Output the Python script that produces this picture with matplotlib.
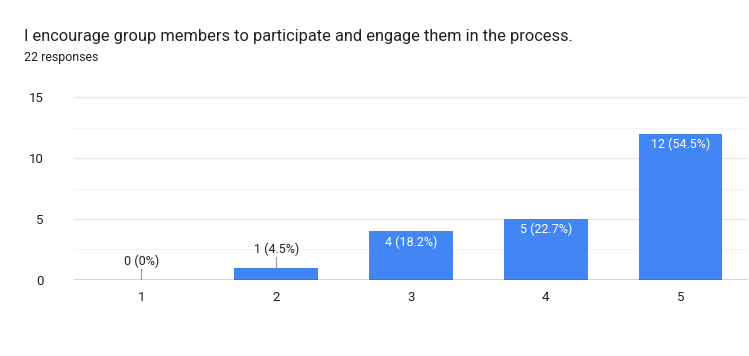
import matplotlib.pyplot as plt
from matplotlib.ticker import MultipleLocator

plt.rcParams['font.family'] = ['Roboto', 'DejaVu Sans']

title = 'I encourage group members to participate and engage them in the process.'
subtitle = '22 responses'
categories = ['1', '2', '3', '4', '5']
counts = [0, 1, 4, 5, 12]
percents = ['0%', '4.5%', '18.2%', '22.7%', '54.5%']

bar_color = '#4285F4'

fig = plt.figure(figsize=(7.49, 3.56), dpi=100)
ax = fig.add_axes([0.0988, 0.2135, 0.8999, 0.514])

x = list(range(len(categories)))
ax.bar(x, counts, width=0.62, color=bar_color, zorder=3)

ax.set_xlim(-0.5, len(categories) - 0.5)
ax.set_ylim(0, 15)
ax.yaxis.set_major_locator(MultipleLocator(5))
ax.yaxis.set_minor_locator(MultipleLocator(2.5))
ax.grid(axis='y', which='major', color='#e6e6e6', linewidth=0.8, zorder=0)
ax.grid(axis='y', which='minor', color='#f3f3f3', linewidth=0.8, zorder=0)
ax.axhline(0, color='#333333', linewidth=1.0, zorder=4)

ax.set_xticks(x)
ax.set_xticklabels(categories)
ax.tick_params(axis='both', which='both', length=0, labelsize=9.5, colors='#222222')
ax.tick_params(axis='x', pad=8)
ax.tick_params(axis='y', pad=22)
for lbl in ax.get_yticklabels():
    lbl.set_horizontalalignment('right')
for s in ax.spines.values():
    s.set_visible(False)

# data labels: inside bar top when there is room, otherwise above with a leader line
for xi, c, p in zip(x, counts, percents):
    label = '%d (%s)' % (c, p)
    if c >= 3:
        ax.text(xi, c - 0.33, label, ha='center', va='top', color='white',
                fontsize=9, zorder=5)
    else:
        ax.plot([xi, xi], [c, c + 0.9], color='#999999', linewidth=0.8, zorder=5)
        ax.text(xi, c + 1.0, label, ha='center', va='bottom', color='#222222',
                fontsize=9, zorder=5)

fig.text(24 / 749, 1 - 36 / 356, title, fontsize=11.8, color='#202124', va='center')
fig.text(24 / 749, 1 - 57 / 356, subtitle, fontsize=8.9, color='#202124', va='center')

fig.savefig('out.png', dpi=100, facecolor='white')
